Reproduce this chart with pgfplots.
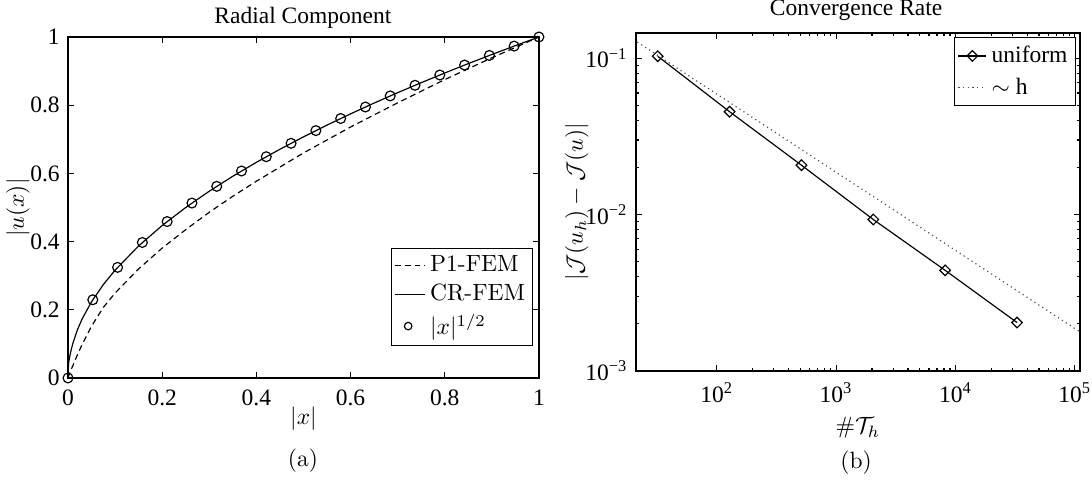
\documentclass[border=0pt]{standalone}
\usepackage{fontspec}
\usepackage{pgfplots}
\pgfplotsset{compat=1.18}
\newfontfamily\tnr{Liberation Serif}
\begin{document}
\begin{tikzpicture}
\useasboundingbox (0,0) rectangle (464.7pt,-204.7pt);
\pgfplotsset{every axis/.append style={scale only axis, clip mode=individual,
  axis line style={line width=0.7pt}, major tick length=2.5pt, minor tick length=1.4pt,
  every tick/.style={black, line width=0.5pt},
  tick label style={font=\tnr}, legend cell align=left}}
% ---------------- (a)
\begin{axis}[at={(28.94pt,-15.74pt)}, anchor=north west, width=200.4pt, height=145.1pt,
  xmin=0, xmax=1, ymin=0, ymax=1,
  xtick={0,0.2,0.4,0.6,0.8,1}, xticklabels={0,0.2,0.4,0.6,0.8,1},
  ytick={0,0.2,0.4,0.6,0.8,1}, yticklabels={0,0.2,0.4,0.6,0.8,1},
  xticklabel style={yshift=-1.5pt},
  legend style={at={(0.987,0.094)}, anchor=south east, draw=black, line width=0.5pt,
    inner sep=1pt, row sep=0pt, font=\normalsize},
  legend image code/.code={\draw[#1] (0cm,0cm) -- (0.45cm,0cm);}
]
\addplot[black, line width=0.5pt, dash pattern=on 2.5pt off 1.7pt] coordinates {
(0,0) (0.005,0.02) (0.01,0.035) (0.02,0.068) (0.03,0.098) (0.05,0.152) (0.075,0.207)
(0.1,0.249) (0.15,0.320) (0.2,0.381) (0.25,0.435) (0.3,0.486) (0.35,0.533) (0.4,0.577)
(0.5,0.660) (0.6,0.736) (0.7,0.807) (0.8,0.875) (0.9,0.939) (1,1)};
\addlegendentry{P1-FEM}
\addplot[black, line width=0.5pt] coordinates {
(0,0.025) (0.002,0.05) (0.005,0.072) (0.01,0.1) (0.02,0.1414) (0.03,0.1732) (0.05,0.2236)
(0.075,0.2739) (0.1,0.3162) (0.15,0.3873) (0.2,0.4472) (0.25,0.5) (0.3,0.5477)
(0.35,0.5916) (0.4,0.6325) (0.45,0.6708) (0.5,0.7071) (0.55,0.7416) (0.6,0.7746)
(0.65,0.8062) (0.7,0.8367) (0.75,0.8660) (0.8,0.8944) (0.85,0.9220) (0.9,0.9487)
(0.95,0.9747) (1,1)};
\addlegendentry{CR-FEM}
\addplot[black, only marks, mark=o, mark size=2.1pt, mark options={line width=0.5pt},
  legend image code/.code={\draw[black, line width=0.5pt] (0.2cm,0cm) circle (1.6pt);}] coordinates {
(0,0) (0.05263,0.2294) (0.10526,0.3244) (0.15789,0.3974) (0.21053,0.4588) (0.26316,0.5130)
(0.31579,0.5620) (0.36842,0.6070) (0.42105,0.6489) (0.47368,0.6882) (0.52632,0.7255)
(0.57895,0.7609) (0.63158,0.7947) (0.68421,0.8272) (0.73684,0.8584) (0.78947,0.8885)
(0.84211,0.9177) (0.89474,0.9459) (0.94737,0.9733) (1,1)};
\addlegendentry{$|x|^{1/2}$}
\node[rotate=90] at (axis description cs:-0.106,0.5) {$|u(x)|$};
\node at (axis description cs:0.5,-0.118) {$|x|$};
\end{axis}
% ---------------- (b)
\begin{axis}[at={(270.6pt,-14.04pt)}, anchor=north west, width=188.9pt, height=143.8pt,
  xmode=log, ymode=log, xmin=21, xmax=1.1e5, ymin=1e-3, ymax=0.145,
  xtick={100,1000,10000,100000},
  xticklabels={10\textsuperscript{2},10\textsuperscript{3},10\textsuperscript{4},10\textsuperscript{5}},
  ytick={0.001,0.01,0.1},
  yticklabels={10\textsuperscript{−3},10\textsuperscript{−2},10\textsuperscript{−1}},
  xticklabel style={yshift=-1.5pt},
  legend style={at={(0.992,0.988)}, anchor=north east, draw=black, line width=0.5pt,
    inner sep=1.5pt, row sep=1pt, font=\tnr},
  legend image code/.code={\draw[mark repeat=2, mark phase=2, #1] plot coordinates {(0cm,0cm) (0.21cm,0cm) (0.42cm,0cm)};}
]
\addplot[black, line width=0.5pt, mark=square, mark size=1.6pt,
  mark options={rotate=45, line width=0.5pt, fill=white, solid}] coordinates {
(32,0.103) (128,0.0455) (512,0.0207) (2048,0.0093) (8192,0.0044) (32768,0.00204)};
\addlegendentry{uniform}
\addplot[black!70, line width=0.5pt, dash pattern=on 0.5pt off 1.5pt] coordinates {
(20,0.1319) (1.1e5,0.00178)};
\addlegendentry{$\sim$ h}
\node[rotate=90] at (axis description cs:-0.133,0.5) {$|\mathcal{J}(u_h)-\mathcal{J}(u)|$};
\node at (axis description cs:0.5,-0.168) {$\#\mathcal{T}_h$};
\end{axis}
\node[font=\tnr] at (128.9pt,-7.66pt) {Radial Component};
\node[font=\tnr] at (364.3pt,-4.2pt) {Convergence Rate};
\node at (128.9pt,-196.2pt) {(a)};
\node at (364.3pt,-197pt) {(b)};
\end{tikzpicture}
\end{document}
